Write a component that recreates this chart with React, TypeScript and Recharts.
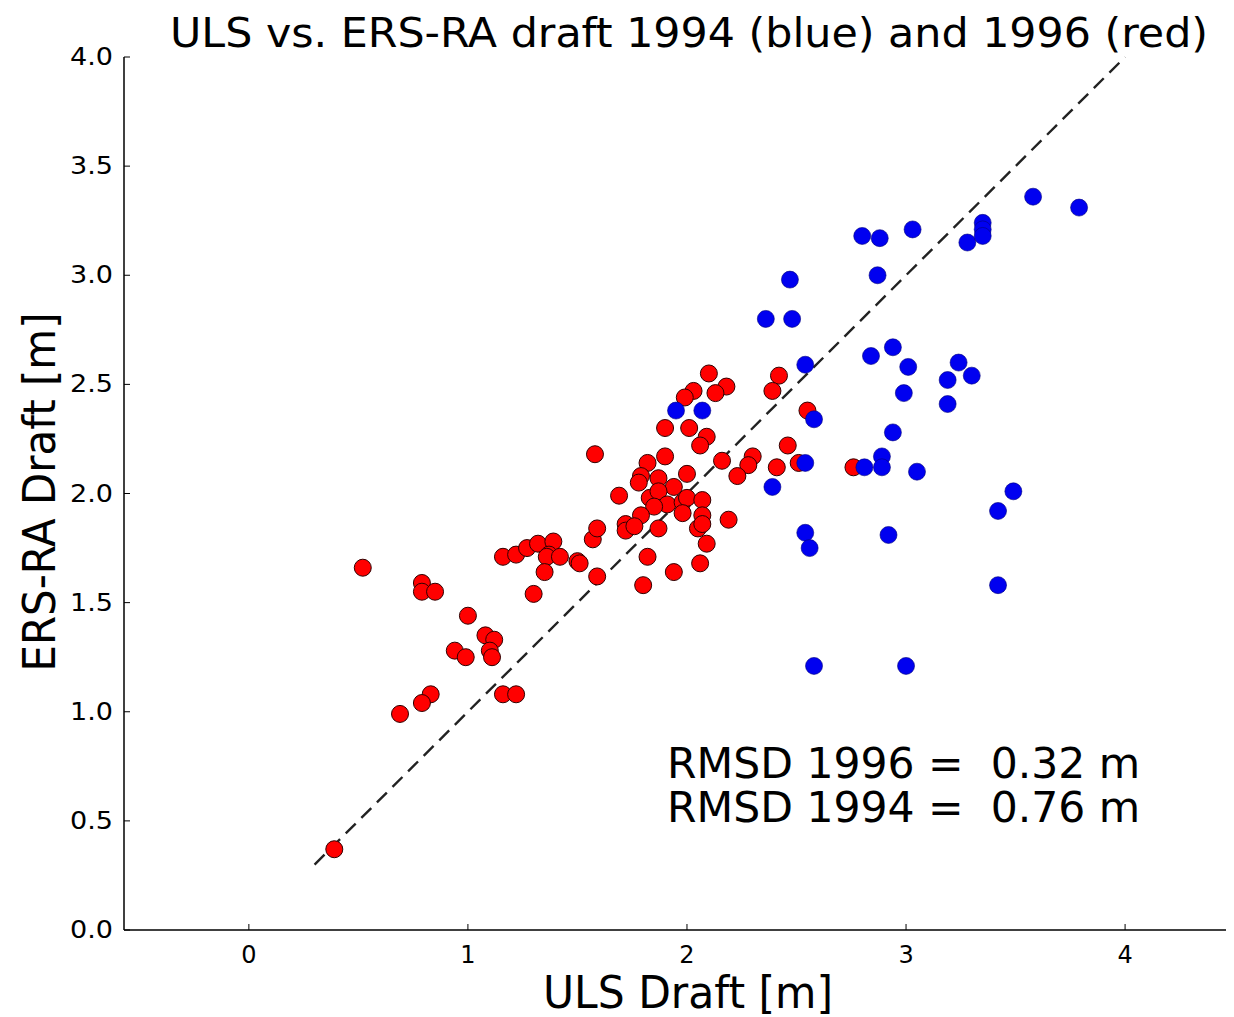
import React from 'react';
import {
  ScatterChart,
  Scatter,
  XAxis,
  YAxis,
  ReferenceLine,
  Customized,
} from 'recharts';

// ULS (x) vs ERS-RA (y) draft, metres
const RED_1996 = [
  { x: 0.39, y: 0.37 }, { x: 0.52, y: 1.66 }, { x: 0.69, y: 0.99 }, { x: 0.79, y: 1.59 },
  { x: 0.79, y: 1.55 }, { x: 0.85, y: 1.55 }, { x: 0.83, y: 1.08 }, { x: 0.79, y: 1.04 },
  { x: 1.0, y: 1.44 }, { x: 0.94, y: 1.28 }, { x: 0.99, y: 1.25 }, { x: 1.08, y: 1.35 },
  { x: 1.12, y: 1.33 }, { x: 1.1, y: 1.28 }, { x: 1.11, y: 1.25 }, { x: 1.16, y: 1.08 },
  { x: 1.22, y: 1.08 }, { x: 1.16, y: 1.71 }, { x: 1.22, y: 1.72 }, { x: 1.27, y: 1.75 },
  { x: 1.32, y: 1.77 }, { x: 1.39, y: 1.78 }, { x: 1.37, y: 1.72 }, { x: 1.36, y: 1.71 },
  { x: 1.35, y: 1.64 }, { x: 1.3, y: 1.54 }, { x: 1.42, y: 1.71 }, { x: 1.5, y: 1.69 },
  { x: 1.51, y: 1.68 }, { x: 1.58, y: 2.18 }, { x: 1.57, y: 1.79 }, { x: 1.59, y: 1.84 },
  { x: 1.59, y: 1.62 }, { x: 2.1, y: 2.55 }, { x: 2.03, y: 2.47 }, { x: 1.99, y: 2.44 },
  { x: 2.18, y: 2.49 }, { x: 2.13, y: 2.46 }, { x: 1.9, y: 2.3 }, { x: 2.01, y: 2.3 },
  { x: 2.09, y: 2.26 }, { x: 2.06, y: 2.22 }, { x: 1.9, y: 2.17 }, { x: 2.16, y: 2.15 },
  { x: 2.3, y: 2.17 }, { x: 2.28, y: 2.13 }, { x: 2.23, y: 2.08 }, { x: 2.41, y: 2.12 },
  { x: 1.82, y: 2.14 }, { x: 1.79, y: 2.08 }, { x: 1.78, y: 2.05 }, { x: 1.87, y: 2.07 },
  { x: 1.94, y: 2.03 }, { x: 2.0, y: 2.09 }, { x: 1.69, y: 1.99 }, { x: 1.83, y: 1.98 },
  { x: 1.87, y: 2.01 }, { x: 1.91, y: 1.95 }, { x: 1.85, y: 1.94 }, { x: 1.98, y: 1.96 },
  { x: 2.0, y: 1.98 }, { x: 2.07, y: 1.97 }, { x: 1.98, y: 1.91 }, { x: 2.07, y: 1.9 },
  { x: 1.79, y: 1.9 }, { x: 1.72, y: 1.86 }, { x: 1.72, y: 1.83 }, { x: 1.76, y: 1.85 },
  { x: 1.87, y: 1.84 }, { x: 2.05, y: 1.84 }, { x: 2.07, y: 1.86 }, { x: 2.19, y: 1.88 },
  { x: 2.09, y: 1.77 }, { x: 1.82, y: 1.71 }, { x: 2.06, y: 1.68 }, { x: 1.94, y: 1.64 },
  { x: 1.8, y: 1.58 }, { x: 2.42, y: 2.54 }, { x: 2.39, y: 2.47 }, { x: 2.55, y: 2.38 },
  { x: 2.46, y: 2.22 }, { x: 2.51, y: 2.14 }, { x: 2.76, y: 2.12 },
];

const BLUE_1994 = [
  { x: 1.95, y: 2.38 }, { x: 2.07, y: 2.38 }, { x: 2.54, y: 2.59 }, { x: 2.58, y: 2.34 },
  { x: 2.94, y: 2.28 }, { x: 2.54, y: 2.14 }, { x: 2.81, y: 2.12 }, { x: 2.89, y: 2.17 },
  { x: 2.89, y: 2.12 }, { x: 2.39, y: 2.03 }, { x: 2.54, y: 1.82 }, { x: 2.56, y: 1.75 },
  { x: 2.92, y: 1.81 }, { x: 3.58, y: 3.36 }, { x: 3.79, y: 3.31 }, { x: 2.8, y: 3.18 },
  { x: 2.88, y: 3.17 }, { x: 3.03, y: 3.21 }, { x: 3.28, y: 3.15 }, { x: 3.35, y: 3.24 },
  { x: 3.35, y: 3.21 }, { x: 3.35, y: 3.18 }, { x: 2.47, y: 2.98 }, { x: 2.87, y: 3.0 },
  { x: 2.36, y: 2.8 }, { x: 2.48, y: 2.8 }, { x: 2.84, y: 2.63 }, { x: 2.94, y: 2.67 },
  { x: 3.01, y: 2.58 }, { x: 3.24, y: 2.6 }, { x: 3.3, y: 2.54 }, { x: 3.19, y: 2.52 },
  { x: 3.19, y: 2.41 }, { x: 2.99, y: 2.46 }, { x: 3.05, y: 2.1 }, { x: 3.49, y: 2.01 },
  { x: 3.42, y: 1.92 }, { x: 3.42, y: 1.58 }, { x: 2.58, y: 1.21 }, { x: 3.0, y: 1.21 },
];

const ONE_TO_ONE = [{ x: 0.3, y: 0.3 }, { x: 4, y: 4 }];

const X_DOMAIN = [-0.57, 4.52];
const Y_DOMAIN = [0, 4];
const X_TICKS = [0, 1, 2, 3, 4];
const Y_TICKS = [0, 0.5, 1, 1.5, 2, 2.5, 3, 3.5, 4];

const TITLE = 'ULS vs. ERS-RA draft 1994 (blue) and 1996 (red)';
const X_LABEL = 'ULS Draft [m]';
const Y_LABEL = 'ERS-RA Draft [m]';
const RMSD_LINES = ['RMSD 1996 =  0.32 m', 'RMSD 1994 =  0.76 m'];

const FONT = '"DejaVu Sans", sans-serif';
const COND = '"DejaVu Sans Condensed", "DejaVu Sans", sans-serif';

const BottomTick = (props: any) => {
  const { x, y, payload } = props;
  return (
    <g>
      <line x1={x} y1={y} x2={x} y2={y - 6} stroke="#000" strokeWidth={1} />
      <text x={x} y={y + 33} textAnchor="middle" fontFamily={FONT} fontSize={24} fill="#000">
        {payload.value}
      </text>
    </g>
  );
};

const TopTick = (props: any) => {
  const { x, y } = props;
  return <line x1={x} y1={y} x2={x} y2={y + 6} stroke="#000" strokeWidth={1} />;
};

const LeftTick = (props: any) => {
  const { x, y, payload } = props;
  return (
    <g>
      <line x1={x} y1={y} x2={x + 6} y2={y} stroke="#000" strokeWidth={1} />
      <text
        x={x - 11}
        y={y + 8}
        textAnchor="end"
        fontFamily={FONT}
        fontSize={24}
        textLength={43}
        lengthAdjust="spacingAndGlyphs"
        fill="#000"
      >
        {Number(payload.value).toFixed(1)}
      </text>
    </g>
  );
};

const RightTick = (props: any) => {
  const { x, y } = props;
  return <line x1={x} y1={y} x2={x - 6} y2={y} stroke="#000" strokeWidth={1} />;
};

const redDot = (props: any) => (
  <circle cx={props.cx} cy={props.cy} r={8.5} fill="#ff0000" stroke="#300000" strokeWidth={1} />
);
const blueDot = (props: any) => (
  <circle cx={props.cx} cy={props.cy} r={8.5} fill="#0000f0" stroke="#00007a" strokeWidth={0.6} />
);

const Texts = () => (
  <g>
    <text
      x={162}
      y={39}
      fontFamily={COND}
      fontSize={41}
      textLength={1038}
      lengthAdjust="spacingAndGlyphs"
      fill="#000"
    >
      {TITLE}
    </text>
    <text
      x={535}
      y={1000}
      fontFamily={COND}
      fontSize={44}
      textLength={290}
      lengthAdjust="spacingAndGlyphs"
      fill="#000"
    >
      {X_LABEL}
    </text>
    <text
      x={47}
      y={484}
      transform="rotate(-90 47 484)"
      textAnchor="middle"
      fontFamily={COND}
      fontSize={44}
      textLength={359}
      lengthAdjust="spacingAndGlyphs"
      fill="#000"
    >
      {Y_LABEL}
    </text>
    <text fontFamily={FONT} fontSize={42.5} style={{ whiteSpace: 'pre' }} fill="#000">
      {RMSD_LINES.map((line, i) => (
        <tspan key={line} x={659} y={770 + i * 44}>
          {line}
        </tspan>
      ))}
    </text>
  </g>
);

export default function App() {
  return (
    <div style={{ width: 1226, height: 1009, overflow: 'hidden', background: '#fff' }}>
      <ScatterChart width={1240} height={1009} margin={{ top: 49, right: 9, bottom: 0, left: 0 }}>
        <XAxis
          type="number"
          dataKey="x"
          domain={X_DOMAIN}
          ticks={X_TICKS}
          allowDataOverflow
          height={87}
          tickSize={0}
          tickMargin={0}
          tickLine={false}
          axisLine={{ stroke: '#000', strokeWidth: 1.5 }}
          tick={<BottomTick />}
        />
        <XAxis
          xAxisId="top"
          orientation="top"
          type="number"
          dataKey="x"
          domain={X_DOMAIN}
          ticks={X_TICKS}
          allowDataOverflow
          height={0}
          tickSize={0}
          tickMargin={0}
          tickLine={false}
          axisLine={{ stroke: '#000', strokeWidth: 1.5 }}
          tick={<TopTick />}
        />
        <YAxis
          type="number"
          dataKey="y"
          domain={Y_DOMAIN}
          ticks={Y_TICKS}
          allowDataOverflow
          width={116}
          tickSize={0}
          tickMargin={0}
          tickLine={false}
          axisLine={{ stroke: '#000', strokeWidth: 1.5 }}
          tick={<LeftTick />}
        />
        <YAxis
          yAxisId="right"
          orientation="right"
          type="number"
          dataKey="y"
          domain={Y_DOMAIN}
          ticks={Y_TICKS}
          allowDataOverflow
          width={0}
          tickSize={0}
          tickMargin={0}
          tickLine={false}
          axisLine={{ stroke: '#000', strokeWidth: 1.5 }}
          tick={<RightTick />}
        />
        <Scatter data={RED_1996} shape={redDot} isAnimationActive={false} />
        <Scatter data={BLUE_1994} shape={blueDot} isAnimationActive={false} />
        <ReferenceLine
          segment={ONE_TO_ONE}
          stroke="#222"
          strokeWidth={2.4}
          strokeDasharray="14 8"
        />
        <Customized component={<Texts />} />
      </ScatterChart>
    </div>
  );
}
